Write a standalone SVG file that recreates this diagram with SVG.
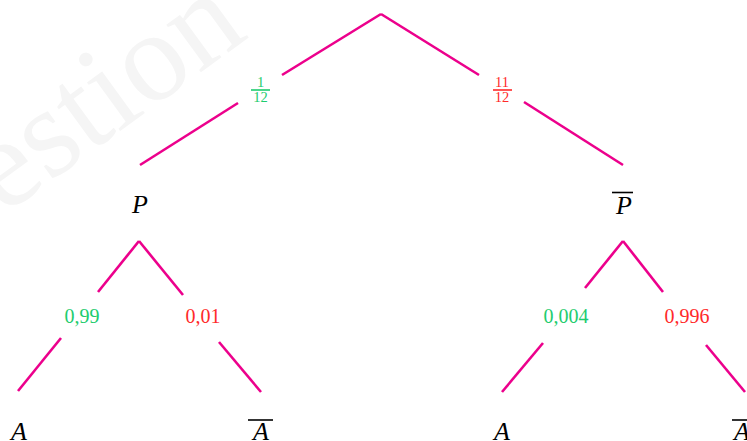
<svg xmlns="http://www.w3.org/2000/svg" width="747" height="441" viewBox="0 0 747 441">
<style>
.br{stroke:#ec008c;stroke-width:2.6;fill:none;stroke-linecap:butt}
.lbl{font-family:"Liberation Serif","DejaVu Serif",serif;text-anchor:middle}
.ev{font-family:"Liberation Serif","DejaVu Serif",serif;font-style:italic;font-size:26px;text-anchor:middle;fill:#000}
.g{fill:#1ecc6e}
.r{fill:#ff2a2a}
.num{font-size:20px}
.fr{font-size:14.5px}
.bar{stroke-width:1.6}
.ov{stroke:#000;stroke-width:1.6}
</style>
<rect width="747" height="441" fill="#fff"/>
<text x="0" y="0" transform="translate(3,216) rotate(-36)" font-family="Liberation Serif,serif" font-size="128" fill="#f5f5f5">estion</text>
<g id="connectors">
<line class="br" x1="381" y1="14" x2="282" y2="75"/>
<line class="br" x1="238" y1="103" x2="140" y2="165"/>
<line class="br" x1="381" y1="14" x2="479" y2="75"/>
<line class="br" x1="524" y1="102" x2="623" y2="165"/>
<line class="br" x1="139" y1="241" x2="98" y2="292"/>
<line class="br" x1="139" y1="241" x2="183" y2="295"/>
<line class="br" x1="61" y1="338" x2="18" y2="391"/>
<line class="br" x1="219" y1="342" x2="261" y2="392"/>
<line class="br" x1="623" y1="241" x2="585" y2="288"/>
<line class="br" x1="623" y1="241" x2="663" y2="292"/>
<line class="br" x1="543" y1="343" x2="502" y2="392"/>
<line class="br" x1="706" y1="345" x2="745" y2="392"/>
</g>
<g id="p1">
<text class="lbl g fr" x="260.5" y="86.5">1</text>
<line x1="251" y1="90" x2="270" y2="90" stroke="#1ecc6e" class="bar"/>
<text class="lbl g fr" x="260.5" y="101.5">12</text>
</g>
<g id="p2">
<text class="lbl r fr" x="502" y="86.5">11</text>
<line x1="493" y1="90" x2="512" y2="90" stroke="#ff2a2a" class="bar"/>
<text class="lbl r fr" x="502" y="101.5">12</text>
</g>
<g id="nodeP"><text class="ev" x="140" y="213">P</text></g>
<g id="nodePbar"><text class="ev" x="624" y="214">P</text><line class="ov" x1="612" y1="192.5" x2="633" y2="192.5"/></g>
<g id="l1"><text class="lbl g num" x="82" y="323">0,99</text></g>
<g id="l2"><text class="lbl r num" x="203" y="323">0,01</text></g>
<g id="l3"><text class="lbl g num" x="566" y="323">0,004</text></g>
<g id="l4"><text class="lbl r num" x="687" y="323">0,996</text></g>
<g id="nodeA1"><text class="ev" x="19" y="440">A</text></g>
<g id="nodeAbar1"><text class="ev" x="261" y="440">A</text><line class="ov" x1="248" y1="420" x2="273" y2="420"/></g>
<g id="nodeA2"><text class="ev" x="502" y="440">A</text></g>
<g id="nodeAbar2"><text class="ev" x="742" y="440">A</text><line class="ov" x1="732" y1="420" x2="757" y2="420"/></g>
</svg>
